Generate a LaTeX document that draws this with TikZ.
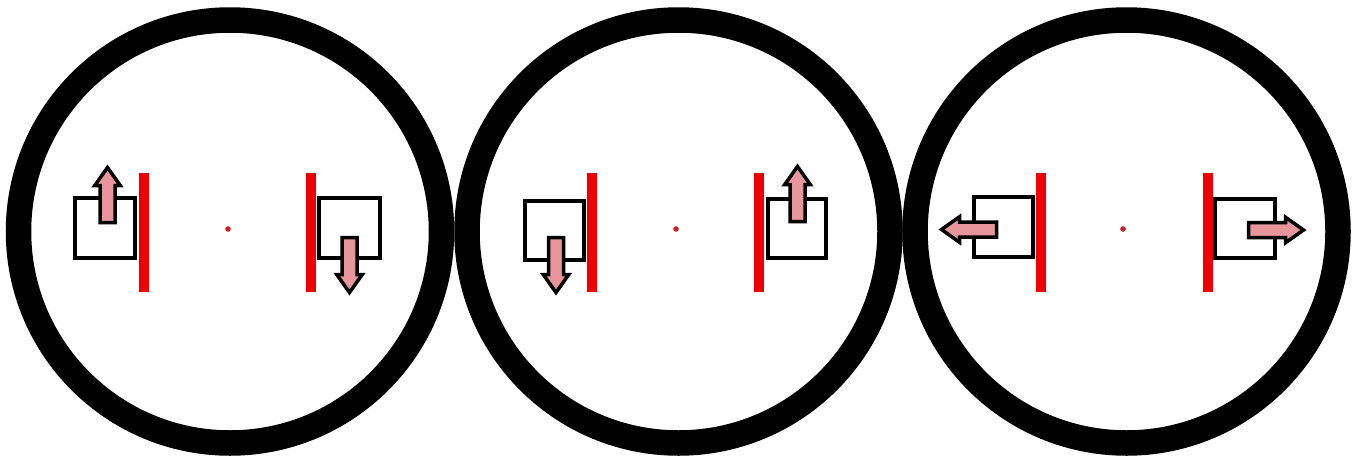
\documentclass[tikz,border=0pt]{standalone}
\definecolor{pinkfill}{RGB}{232,150,156}
\definecolor{barred}{RGB}{238,0,0}
\definecolor{dotred}{RGB}{205,30,40}
\tikzset{
  ring/.style={draw=black, line width=25.5pt},
  boxsq/.style={draw=black, line width=4pt, fill=white},
  redbar/.style={fill=barred, draw=none},
  centerdot/.style={fill=dotred, draw=none},
  blockarrow/.pic={
    \draw[fill=pinkfill, draw=black, line width=3.5pt, line join=miter]
      (0,-7.5) -- (37,-7.5) -- (37,-12.75) -- (55,0) -- (37,12.75) -- (37,7.5) -- (0,7.5) -- cycle;
  }
}
\begin{document}
\begin{tikzpicture}[x=1pt,y=-1pt]
\useasboundingbox (0,0) rectangle (1362,461);
\fill[white] (0,0) rectangle (1362,461);
% rings
\draw[ring] (230,231.5) circle (211.5);
\draw[ring] (678.5,231.5) circle (211.5);
\draw[ring] (1126.5,231.5) circle (211.5);
% centre dots
\fill[centerdot] (228,229) circle (2.8);
\fill[centerdot] (676,229) circle (2.8);
\fill[centerdot] (1123,229) circle (2.8);
% circle 1
\draw[boxsq] (75,198) rectangle (135,258);
\draw[boxsq] (319,198) rectangle (380,258);
\pic[rotate=90] at (107.5,222.5) {blockarrow};
\pic[rotate=-90] at (349.5,237.5) {blockarrow};
\fill[redbar] (139,173) rectangle (149,292);
\fill[redbar] (306,173) rectangle (316,292);
% circle 2
\draw[boxsq] (525,201) rectangle (584,260);
\draw[boxsq] (768,199) rectangle (826,258);
\pic[rotate=-90] at (556,237.5) {blockarrow};
\pic[rotate=90] at (797.5,221.5) {blockarrow};
\fill[redbar] (587,173) rectangle (597,292);
\fill[redbar] (753.5,173) rectangle (763.5,292);
% circle 3
\draw[boxsq] (974,197) rectangle (1033,257);
\draw[boxsq] (1215,199) rectangle (1275,258);
\pic[rotate=180] at (996.5,229.5) {blockarrow};
\pic at (1248.5,230) {blockarrow};
\fill[redbar] (1035.5,173) rectangle (1045.5,292);
\fill[redbar] (1203,173) rectangle (1213,292);
\end{tikzpicture}
\end{document}
